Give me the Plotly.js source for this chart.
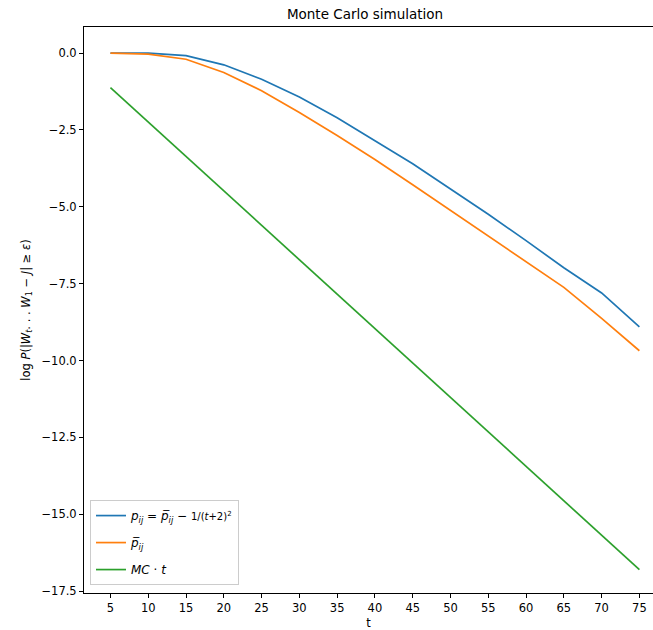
<!DOCTYPE html>
<html>
<head>
<meta charset="utf-8">
<script src="https://cdn.plot.ly/plotly-3.0.1.min.js"></script>
<style>
html,body{margin:0;padding:0;background:#fff;overflow:hidden;}
#chart{width:653px;height:630px;}
</style>
</head>
<body>
<div id="chart"></div>
<script>
var t = [5, 10, 15, 20, 25, 30, 35, 40, 45, 50, 55, 60, 65, 70, 75];
var pCorrected = [0.0, 0.0, -0.08, -0.38, -0.85, -1.43, -2.1, -2.85, -3.6, -4.42, -5.24, -6.1, -6.98, -7.8, -8.9];
var pBar = [0.0, -0.03, -0.2, -0.63, -1.22, -1.93, -2.68, -3.46, -4.28, -5.12, -5.96, -6.8, -7.62, -8.63, -9.68];
var mcT = [-1.12, -2.24, -3.36, -4.48, -5.6, -6.72, -7.84, -8.96, -10.08, -11.2, -12.32, -13.44, -14.56, -15.68, -16.8];

var names = [
  "<i>p<sub>ij</sub></i> = <i>p\u0305<sub>ij</sub></i> \u2212 <span style='font-size:10px'>1/(<i>t</i>+2)<sup>2</sup></span>",
  "<i>p\u0305<sub>ij</sub></i>",
  "<i>MC</i> \u00b7 <i>t</i>"
];
var colors = ['#1f77b4', '#ff7f0e', '#2ca02c'];
var series = [pCorrected, pBar, mcT];

var traces = series.map(function(s, i){
  return {x: t, y: s, type: 'scatter', mode: 'lines', name: names[i], legendgroup: 'g' + i,
          line: {color: colors[i], width: 1.7}};
});

var font = {family: 'DejaVu Sans, sans-serif', size: 11.5, color: '#000'};
var layout = {
  width: 653, height: 630,
  margin: {l: 84, r: 0, t: 27, b: 37},
  paper_bgcolor: '#fff', plot_bgcolor: '#fff',
  font: font,
  showlegend: true,
  title: {text: 'Monte Carlo simulation', font: {family: 'DejaVu Sans, sans-serif', size: 13.5, color: '#000'},
          x: 0.559, xref: 'container', xanchor: 'center', y: 0.978, yref: 'container', yanchor: 'middle'},
  xaxis: {
    range: [1.5, 76.8], tick0: 5, dtick: 5, showgrid: false, zeroline: false,
    showline: true, linecolor: '#000', linewidth: 1, mirror: true,
    ticks: 'outside', ticklen: 4, tickcolor: '#000', tickwidth: 1,
    title: {text: 't', font: font, standoff: 5}
  },
  yaxis: {
    range: [-17.56, 0.85], tick0: 0, dtick: 2.5, tickformat: '.1f', showgrid: false, zeroline: false,
    showline: true, linecolor: '#000', linewidth: 1, mirror: false,
    ticks: 'outside', ticklen: 4, tickcolor: '#000', tickwidth: 1,
    title: {text: 'log <i>P</i>(|<i>W<sub>t</sub></i>. . . <i>W</i><sub>1</sub> \u2212 <i>J</i>| \u2265 <i>\u03b5</i>)', font: font, standoff: 8}
  },
  legend: {
    x: 0.0105, y: 0.014, xanchor: 'left', yanchor: 'bottom',
    bgcolor: 'rgba(255,255,255,0.8)', bordercolor: '#cccccc', borderwidth: 1,
    font: {family: 'DejaVu Sans, sans-serif', size: 12, color: '#000'},
    tracegroupgap: 8
  }
};
Plotly.newPlot('chart', traces, layout, {displayModeBar: false, staticPlot: true});
</script>
</body>
</html>
